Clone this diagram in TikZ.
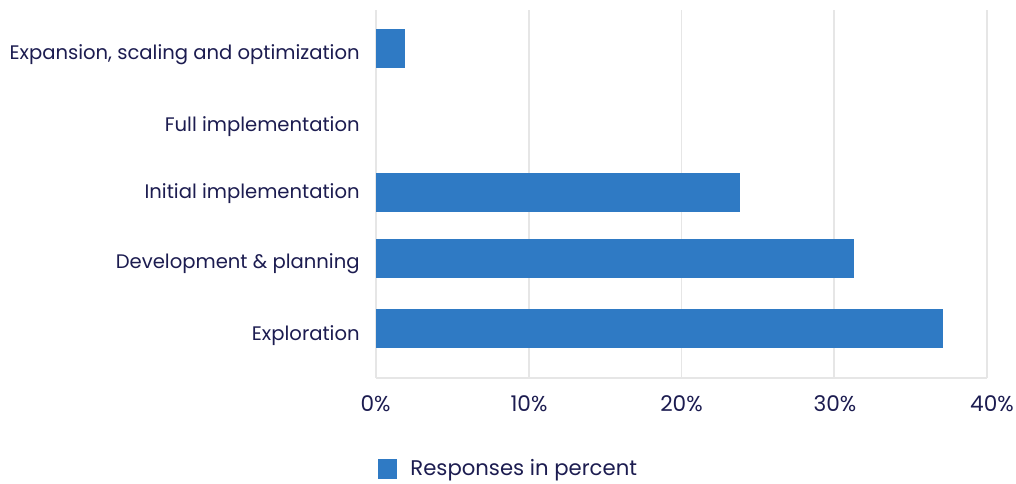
\documentclass[tikz,border=0pt]{standalone}
\usepackage{fontspec}
\setmainfont{Poppins}
\definecolor{barblue}{HTML}{2F7AC4}
\definecolor{labelnavy}{HTML}{1C1C50}
\definecolor{gridgray}{HTML}{E6E6E6}
\usetikzlibrary{positioning}

\begin{document}
\begin{tikzpicture}[x=0.5pt, y=-0.5pt,
    catlabel/.style={font=\fontsize{9.8}{11}\selectfont, color=labelnavy, anchor=base east, inner sep=0pt},
    ticklabel/.style={font=\fontsize{10.8}{12}\selectfont, color=labelnavy, anchor=base, inner sep=0pt},
    gridline/.style={gridgray, line width=0.8pt}]
        \useasboundingbox (0,0) rectangle (1016,483);
        % Gridlines (0% at 376, 40% at 987)
        \draw[gridline] (376,10) -- (376,378);
        \draw[gridline] (528.75,10) -- (528.75,378);
        \draw[gridline] (681.5,10) -- (681.5,378);
        \draw[gridline] (834.25,10) -- (834.25,378);
        \draw[gridline] (987,10) -- (987,378);
        \draw[gridline] (376,378) -- (987,378);
        % Bars
        \fill[barblue] (376,29) rectangle (405,68);
        \fill[barblue] (376,173) rectangle (740,212);
        \fill[barblue] (376,239) rectangle (854,278);
        \fill[barblue] (376,309) rectangle (943,348);
        % Category labels
        \node[catlabel] (expansion) at (360,59) {Expansion, scaling and optimization};
        \node[catlabel] (full) at (360,131.5) {Full implementation};
        \node[catlabel] (initial) at (360,198.5) {Initial implementation};
        \node[catlabel] (development) at (360,268.5) {Development \& planning};
        \node[catlabel] (exploration) at (360,340) {Exploration};
        % Tick labels
        \node[ticklabel] (t0) at (375.5,411.5) {0\%};
        \node[ticklabel] (t10) at (529,411.5) {10\%};
        \node[ticklabel] (t20) at (681.5,411.5) {20\%};
        \node[ticklabel] (t30) at (835,411.5) {30\%};
        \node[ticklabel] (t40) at (992,411.5) {40\%};
        % Legend
        \fill[barblue] (378,459) rectangle (397,479);
        \node[catlabel, anchor=base west, font=\fontsize{10.6}{12}\selectfont] (legend) at (410,475.5) {Responses in percent};
\end{tikzpicture}
\end{document}
